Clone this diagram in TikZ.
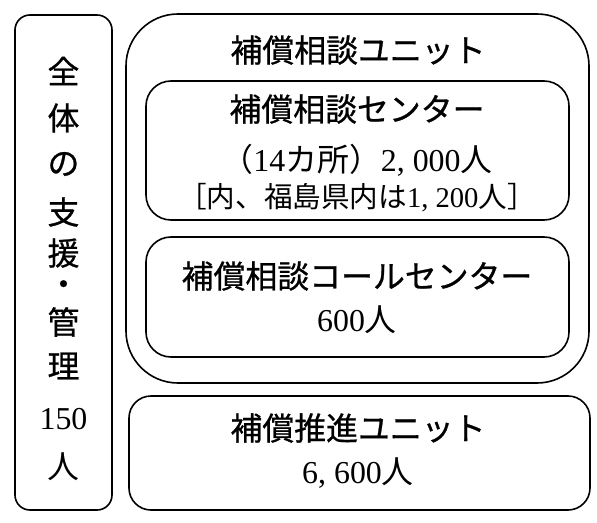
\documentclass[tikz,border=0pt]{standalone}
\usepackage{fontspec}
\setmainfont{Liberation Serif}
\newfontfamily\jp{Noto Sans CJK JP}
\newfontfamily\jpg{Noto Sans CJK JP}[FakeBold=0.8]
\begin{document}
\begin{tikzpicture}[x=1bp,y=-1bp,
  box/.style={draw=black,line width=1.6bp,inner sep=0pt,outer sep=0pt,fill=none},
  gt/.style={inner sep=0pt,font=\jpg\fontsize{32}{38}\selectfont},
  mt/.style={inner sep=0pt,font=\fontsize{32}{38}\selectfont},
  st/.style={inner sep=0pt,font=\fontsize{28.7}{34}\selectfont}]
\useasboundingbox (0,0) rectangle (597,523);
% boxes
\node[box,rounded corners=15bp,minimum width=97bp,minimum height=495bp] (left) at (63.5,262.5) {};
\node[box,rounded corners=52bp,minimum width=463bp,minimum height=369bp] (unit) at (357.5,198.5) {};
\node[box,rounded corners=25bp,minimum width=423bp,minimum height=139bp] (center) at (357.5,150.5) {};
\node[box,rounded corners=25bp,minimum width=423bp,minimum height=120bp] (call) at (357.5,297) {};
\node[box,rounded corners=22bp,minimum width=461bp,minimum height=114bp] (promo) at (359.5,453) {};
% unit title
\node[gt] (unittitle) at (358,50) {補償相談ユニット};
% center box
\node[gt] (ctitle) at (357,109) {補償相談センター};
\node[mt] (cnum) at (357,160) {{\jp （}14{\jp カ所）}2,\hspace{.25em}000{\jp 人}};
\node[st] (cnote) at (357,198) {{\jp ［内、福島県内は}1,\hspace{.25em}200{\jp 人］}};
% call center box
\node[gt] (calltitle) at (357,276) {補償相談コールセンター};
\node[mt] (callnum) at (357,320) {600{\jp 人}};
% promotion unit
\node[gt] (promotitle) at (358,428) {補償推進ユニット};
\node[mt] (promonum) at (358,473) {6,\hspace{.25em}600{\jp 人}};
% left column
\node[gt] (l1) at (63.5,71) {全};
\node[gt] (l2) at (63.5,118) {体};
\node[gt] (l3) at (63.5,164) {の};
\node[gt] (l4) at (63.5,212) {支};
\node[gt] (l5) at (63.5,253) {援};
\node[gt] (l6) at (63.5,288) {・};
\node[gt] (l7) at (63.5,322) {管};
\node[gt] (l8) at (63.5,366) {理};
\node[mt] (l9) at (63.5,419) {150};
\node[mt] (l10) at (63.5,467) {{\jp 人}};
\end{tikzpicture}
\end{document}
